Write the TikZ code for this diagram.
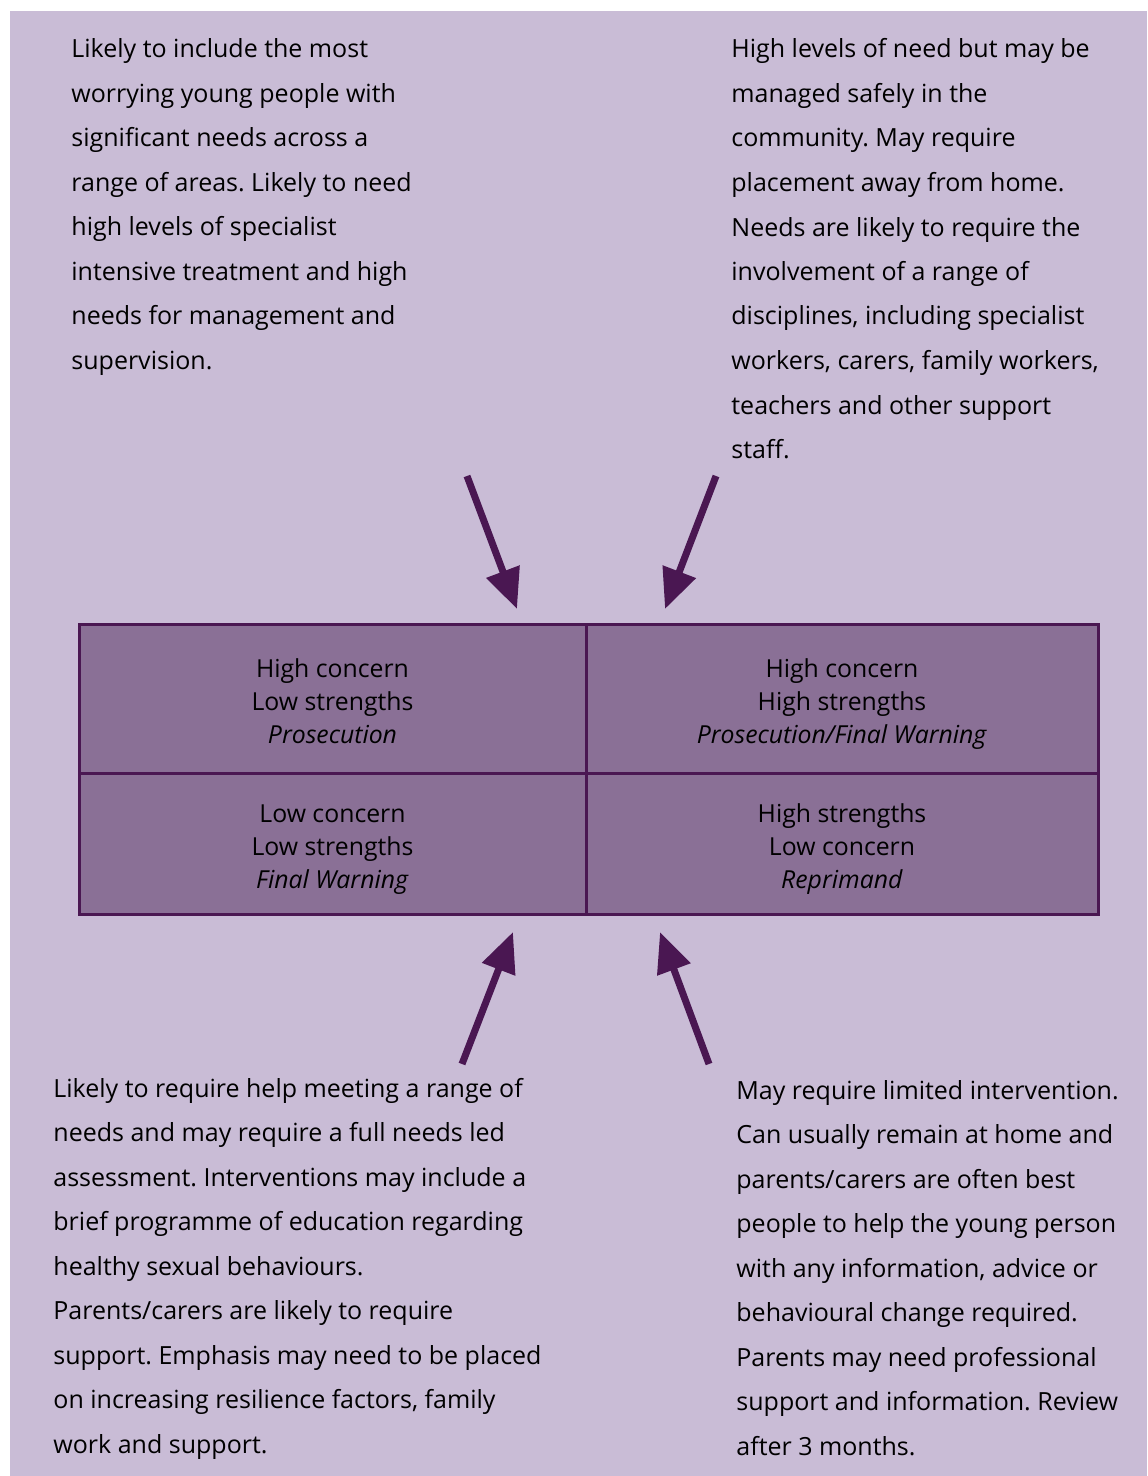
\documentclass[tikz,border=0pt]{standalone}
\usepackage{fontspec}
\setmainfont{Open Sans}
\frenchspacing
\definecolor{lavender}{RGB}{201,188,214}
\definecolor{plum}{RGB}{138,112,150}
\definecolor{aubergine}{RGB}{74,23,82}
\usetikzlibrary{arrows.meta, positioning}
\newcommand{\cellrows}[3]{\rule{0pt}{16.4pt}#1\\#2\\\textit{#3}\rule[-4pt]{0pt}{4pt}}
\tikzset{
  notetext/.style={anchor=base west, align=left, inner sep=0pt, text=black, font=\fontsize{12.5}{22.25}\selectfont},
  cellnode/.style={draw=aubergine, fill=plum, line width=1.5pt, inner sep=0pt, outer sep=0pt, align=center,
    font=\fontsize{12.4}{16.5}\selectfont},
  pointer/.style={-{Triangle[length=20pt,width=17pt]}, line width=3.5pt, draw=aubergine},
}

\begin{document}
\begin{tikzpicture}[x=0.5pt, y=-0.5pt]
\useasboundingbox (0,0) rectangle (1147,1476);
\fill[lavender] (10,11) rectangle (1147,1476);

% the four notes (placed by the baseline of their last line)
\node[notetext] (highlow) at (71,369.5) {Likely to include the most\\worrying young people with\\significant needs across a\\range of areas. Likely to need\\high levels of specialist\\intensive treatment and high\\needs for management and\\supervision.};
\node[notetext] (highhigh) at (731,458.5) {High levels of need but may be\\managed safely in the\\community. May require\\placement away from home.\\Needs are likely to require the\\involvement of a range of\\disciplines, including specialist\\workers, carers, family workers,\\teachers and other support\\staff.};
\node[notetext] (lowlow) at (53,1453) {Likely to require help meeting a range of\\needs and may require a full needs led\\assessment. Interventions may include a\\brief programme of education regarding\\healthy sexual behaviours.\\Parents/carers are likely to require\\support. Emphasis may need to be placed\\on increasing resilience factors, family\\work and support.};
\node[notetext] (lowhigh) at (736,1455) {May require limited intervention.\\Can usually remain at home and\\parents/carers are often best\\people to help the young person\\with any information, advice or\\behavioural change required.\\Parents may need professional\\support and information. Review\\after 3 months.};

% the grid
\node[cellnode, minimum width=253.5pt, minimum height=74.5pt] (cellTL) at (332.5,698.5) {\cellrows{High concern}{Low strengths}{Prosecution}};
\node[cellnode, minimum width=256pt, minimum height=74.5pt] (cellTR) at (842,698.5) {\cellrows{High concern}{High strengths}{Prosecution/Final Warning}};
\node[cellnode, minimum width=253.5pt, minimum height=70.5pt] (cellBL) at (332.5,843.5) {\cellrows{Low concern}{Low strengths}{Final Warning}};
\node[cellnode, minimum width=256pt, minimum height=70.5pt] (cellBR) at (842,843.5) {\cellrows{High strengths}{Low concern}{Reprimand}};

% arrows
\coordinate (tlfrom) at (467,476);
\coordinate (tlto) at (517,609);
\coordinate (trfrom) at (716,476);
\coordinate (trto) at (665,609);
\coordinate (blfrom) at (462,1064);
\coordinate (blto) at (513,932);
\coordinate (brfrom) at (709,1064);
\coordinate (brto) at (660,932);
\draw[pointer] (tlfrom) -- (tlto);
\draw[pointer] (trfrom) -- (trto);
\draw[pointer] (blfrom) -- (blto);
\draw[pointer] (brfrom) -- (brto);
\end{tikzpicture}
\end{document}
